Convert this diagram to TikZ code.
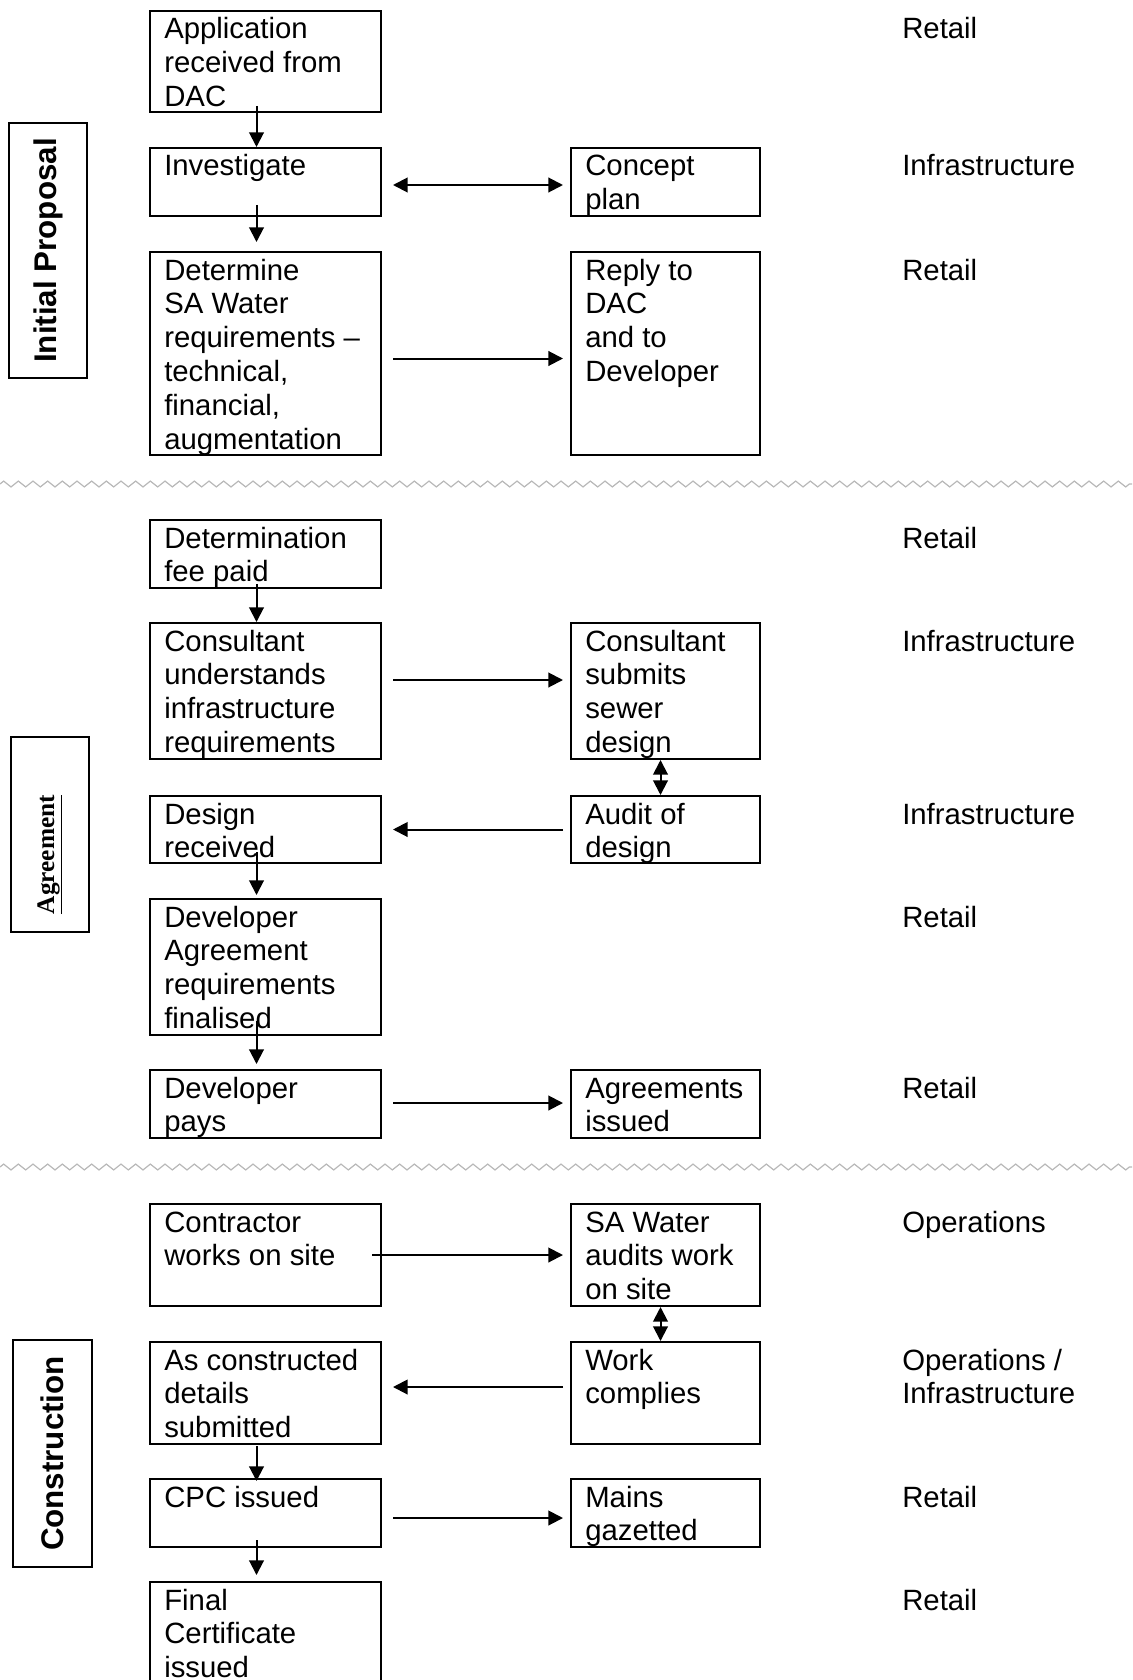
\documentclass[tikz,border=0pt]{standalone}
\usepackage{fontspec}
\setmainfont{Liberation Sans}
\newfontfamily\timesfont{Liberation Serif}
\usetikzlibrary{arrows.meta,calc,fit,decorations.pathmorphing}

% lines of a box, baseline on the first line
\newcommand{\steplines}[1]{\begin{tabular}[t]{@{}l@{}}#1\end{tabular}}

\tikzset{
  stepbox/.style={draw, line width=1.5pt, inner sep=0pt},
  steptext/.style={anchor=base west, inner sep=0pt, font=\fontsize{22}{25.4}\selectfont},
  stagebox/.style={draw, line width=1.5pt, inner sep=0pt},
  stagetext/.style={rotate=90, inner sep=0pt, font=\bfseries\fontsize{23.5}{27}\selectfont},
  flowarrow/.style={line width=1.5pt, -{Triangle[length=11pt,width=11pt]}},
  twowayarrow/.style={line width=1.5pt, {Triangle[length=11pt,width=11pt]}-{Triangle[length=11pt,width=11pt]}},
  breakline/.style={draw=black!28, line width=0.9pt, decorate, decoration={zigzag, segment length=11pt, amplitude=2.2pt}}
}

\begin{document}
\begin{tikzpicture}[x=0.75pt,y=0.75pt,yscale=-1,xscale=1]
\useasboundingbox (0,0) rectangle (1132,1680);
\clip (0,0) rectangle (1132,1680);
\coordinate (rolecol) at (902,0);

% Stage labels
\node[stagebox, fit={(9,123) (87,378)}] (initial) {};
\node[stagetext] (initialt) at (initial.center) {Initial Proposal};
\node[stagebox, fit={(11,737) (89,932)}] (agree) {};
\node[stagetext, font=\timesfont\bfseries\fontsize{19}{22}\selectfont] (agreet) at ($(agree.center)+(0,20)$) {\underline{Agreement}};
\node[stagebox, fit={(13,1340) (92,1567)}] (constr) {};
\node[stagetext] (constrt) at (constr.center) {Construction};

% Separators
\draw[breakline] (0,484) -- (1132,484);
\draw[breakline] (0,1167) -- (1132,1167);

%Shape: Rectangle -- initial proposal
\node[stepbox, fit={(150,11) (381,112)}] (app) {};
\node[stepbox, fit={(150,148) (381,216)}] (inv) {};
\node[stepbox, fit={(571,148) (760,216)}] (concept) {};
\node[stepbox, fit={(150,252) (381,455)}] (det) {};
\node[stepbox, fit={(571,252) (760,455)}] (reply) {};

%Shape: Rectangle -- agreement
\node[stepbox, fit={(150,520) (381,588)}] (fee) {};
\node[stepbox, fit={(150,623) (381,759)}] (cund) {};
\node[stepbox, fit={(571,623) (760,759)}] (csub) {};
\node[stepbox, fit={(150,796) (381,863)}] (drec) {};
\node[stepbox, fit={(571,796) (760,863)}] (audit) {};
\node[stepbox, fit={(150,899) (381,1035)}] (devag) {};
\node[stepbox, fit={(150,1070) (381,1138)}] (dpay) {};
\node[stepbox, fit={(571,1070) (760,1138)}] (agiss) {};

%Shape: Rectangle -- construction
\node[stepbox, fit={(150,1204) (381,1306)}] (contr) {};
\node[stepbox, fit={(571,1204) (760,1306)}] (saaud) {};
\node[stepbox, fit={(150,1342) (381,1444)}] (asc) {};
\node[stepbox, fit={(571,1342) (760,1444)}] (wcomp) {};
\node[stepbox, fit={(150,1479) (381,1547)}] (cpc) {};
\node[stepbox, fit={(571,1479) (760,1547)}] (mains) {};
\node[stepbox, fit={(150,1582) (381,1720)}] (final) {};

% Text Node
\node[steptext] (appt) at ($(app.north west)+(15,29)$) {\steplines{Application\\received from\\DAC}};
\node[steptext] (invt) at ($(inv.north west)+(15,29)$) {\steplines{Investigate}};
\node[steptext] (conceptt) at ($(concept.north west)+(15,29)$) {\steplines{Concept\\plan}};
\node[steptext] (dett) at ($(det.north west)+(15,29)$) {\steplines{Determine\\SA Water\\requirements –\\technical,\\financial,\\augmentation}};
\node[steptext] (replyt) at ($(reply.north west)+(15,29)$) {\steplines{Reply to\\DAC\\and to\\Developer}};
\node[steptext] (feet) at ($(fee.north west)+(15,29)$) {\steplines{Determination\\fee paid}};
\node[steptext] (cundt) at ($(cund.north west)+(15,29)$) {\steplines{Consultant\\understands\\infrastructure\\requirements}};
\node[steptext] (csubt) at ($(csub.north west)+(15,29)$) {\steplines{Consultant\\submits\\sewer\\design}};
\node[steptext] (drect) at ($(drec.north west)+(15,29)$) {\steplines{Design\\received}};
\node[steptext] (auditt) at ($(audit.north west)+(15,29)$) {\steplines{Audit of\\design}};
\node[steptext] (devagt) at ($(devag.north west)+(15,29)$) {\steplines{Developer\\Agreement\\requirements\\finalised}};
\node[steptext] (dpayt) at ($(dpay.north west)+(15,29)$) {\steplines{Developer\\pays}};
\node[steptext] (agisst) at ($(agiss.north west)+(15,29)$) {\steplines{Agreements\\issued}};
\node[steptext] (contrt) at ($(contr.north west)+(15,29)$) {\steplines{Contractor\\works on site}};
\node[steptext] (saaudt) at ($(saaud.north west)+(15,29)$) {\steplines{SA Water\\audits work\\on site}};
\node[steptext] (asct) at ($(asc.north west)+(15,29)$) {\steplines{As constructed\\details\\submitted}};
\node[steptext] (wcompt) at ($(wcomp.north west)+(15,29)$) {\steplines{Work\\complies}};
\node[steptext] (cpct) at ($(cpc.north west)+(15,29)$) {\steplines{CPC issued}};
\node[steptext] (mainst) at ($(mains.north west)+(15,29)$) {\steplines{Mains\\gazetted}};
\node[steptext] (finalt) at ($(final.north west)+(15,29)$) {\steplines{Final\\Certificate\\issued}};

% Text Node -- who does it
\node[steptext] (role1) at (appt.base -| rolecol) {Retail};
\node[steptext] (role2) at (invt.base -| rolecol) {Infrastructure};
\node[steptext] (role3) at (dett.base -| rolecol) {Retail};
\node[steptext] (role4) at (feet.base -| rolecol) {Retail};
\node[steptext] (role5) at (cundt.base -| rolecol) {Infrastructure};
\node[steptext] (role6) at (drect.base -| rolecol) {Infrastructure};
\node[steptext] (role7) at (devagt.base -| rolecol) {Retail};
\node[steptext] (role8) at (dpayt.base -| rolecol) {Retail};
\node[steptext] (role9) at (contrt.base -| rolecol) {Operations};
\node[steptext] (role10) at (asct.base -| rolecol) {\steplines{Operations /\\Infrastructure}};
\node[steptext] (role11) at (cpct.base -| rolecol) {Retail};
\node[steptext] (role12) at (finalt.base -| rolecol) {Retail};

%Straight Lines -- down the left column
\draw[flowarrow] ($(app.south)+(-9,-7)$) -- ($(inv.north)+(-9,0)$);
\draw[flowarrow] ($(inv.south)+(-9,-12)$) -- ($(det.north)+(-9,-9)$);
\draw[flowarrow] ($(fee.south)+(-9,-5)$) -- ($(cund.north)+(-9,0)$);
\draw[flowarrow] ($(drec.south)+(-9,-12)$) -- ($(devag.north)+(-9,-3)$);
\draw[flowarrow] ($(devag.south)+(-9,-15)$) -- ($(dpay.north)+(-9,-5)$);
\draw[flowarrow] ($(asc.south)+(-9,1)$) -- ($(cpc.north)+(-9,3)$);
\draw[flowarrow] ($(cpc.south)+(-9,-8)$) -- ($(final.north)+(-9,-6)$);

%Straight Lines -- across
\draw[twowayarrow] ($(inv.east)+(11,3)$) -- ($(concept.west)+(-7,3)$);
\draw[flowarrow] ($(det.east)+(11,5)$) -- ($(reply.west)+(-7,5)$);
\draw[flowarrow] ($(cund.east)+(11,-11)$) -- ($(csub.west)+(-7,-11)$);
\draw[flowarrow] ($(audit.west)+(-7,0)$) -- ($(drec.east)+(11,0)$);
\draw[flowarrow] ($(dpay.east)+(11,-1)$) -- ($(agiss.west)+(-7,-1)$);
\draw[flowarrow] ($(contr.east)+(-10,0)$) -- ($(saaud.west)+(-7,0)$);
\draw[flowarrow] ($(wcomp.west)+(-7,-6)$) -- ($(asc.east)+(11,-6)$);
\draw[flowarrow] ($(cpc.east)+(11,5)$) -- ($(mains.west)+(-7,5)$);

%Straight Lines -- right column, both ways
\draw[twowayarrow] ($(csub.south)+(-5,0)$) -- ($(audit.north)+(-5,0)$);
\draw[twowayarrow] ($(saaud.south)+(-5,0)$) -- ($(wcomp.north)+(-5,0)$);

\end{tikzpicture}
\end{document}
